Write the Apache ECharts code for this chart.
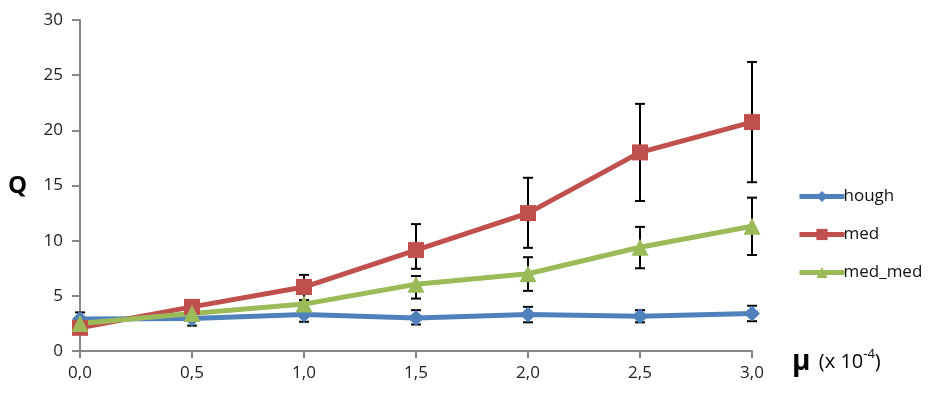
<!DOCTYPE html>
<html><head><meta charset="utf-8">
<script src="https://cdn.jsdelivr.net/npm/echarts@6/dist/echarts.min.js"></script>
<style>html,body{margin:0;padding:0;background:#fff}#c{width:940px;height:397px}</style>
</head><body><div id="c"></div>
<script>
const xValues = [0, 0.5, 1.0, 1.5, 2.0, 2.5, 3.0];
const yTicks = [0, 5, 10, 15, 20, 25, 30];
const seriesNames = ['hough', 'med', 'med_med'];
const houghVals = [2.9, 2.95, 3.3, 3.0, 3.3, 3.15, 3.4];
const houghLow  = [2.4, 2.3, 2.65, 2.4, 2.6, 2.6, 2.7];
const houghHigh = [3.5, 3.6, 3.95, 3.7, 4.0, 3.7, 4.1];
const medVals = [2.1, 4.0, 5.8, 9.15, 12.5, 18.0, 20.75];
const medLow  = [1.9, 3.5, 4.6, 7.45, 9.35, 13.6, 15.3];
const medHigh = [2.3, 4.5, 6.9, 11.5, 15.7, 22.4, 26.2];
const medmedVals = [2.5, 3.4, 4.25, 6.05, 7.0, 9.4, 11.3];
const medmedLow  = [2.4, 3.1, 3.9, 4.75, 5.45, 7.5, 8.7];
const medmedHigh = [2.6, 3.7, 4.6, 6.8, 8.5, 11.25, 13.9];

const colors = ['#4F81BD', '#C0504D', '#9BBB59'];
const symbols = ['diamond', 'rect', 'triangle'];
const symSizes = [16, 16, 17];
const vals = [houghVals, medVals, medmedVals];
const lows = [houghLow, medLow, medmedLow];
const highs = [houghHigh, medHigh, medmedHigh];
const font = 'Open Sans';

const series = [];
for (let s = 0; s < 3; s++) {
  series.push({
    name: seriesNames[s] + '_err', type: 'custom', z: 1,
    data: xValues.map((x, i) => [x, lows[s][i], highs[s][i]]),
    renderItem: function (params, api) {
      const lo = api.coord([api.value(0), api.value(1)]);
      const hi = api.coord([api.value(0), api.value(2)]);
      const w = 5;
      const st = { stroke: '#000', lineWidth: 2 };
      return { type: 'group', children: [
        { type: 'line', shape: { x1: lo[0], y1: lo[1], x2: hi[0], y2: hi[1] }, style: st },
        { type: 'line', shape: { x1: lo[0] - w, y1: lo[1], x2: lo[0] + w, y2: lo[1] }, style: st },
        { type: 'line', shape: { x1: hi[0] - w, y1: hi[1], x2: hi[0] + w, y2: hi[1] }, style: st }
      ]};
    },
    silent: true, animation: false
  });
}
for (let s = 0; s < 3; s++) {
  series.push({
    name: seriesNames[s], type: 'line', z: 3,
    data: xValues.map((x, i) => [x, vals[s][i]]),
    symbol: symbols[s], symbolSize: symSizes[s], showSymbol: true,
    lineStyle: { color: colors[s], width: 5 },
    itemStyle: { color: colors[s] },
    animation: false
  });
}

const chart = echarts.init(document.getElementById('c'));
chart.setOption({
  backgroundColor: '#fff',
  animation: false,
  grid: { left: 80, right: 188, top: 20, bottom: 46 },
  xAxis: {
    type: 'value', min: 0, max: 3, interval: 0.5,
    axisLine: { lineStyle: { color: '#868686', width: 2 } },
    axisTick: { show: true, length: 7, inside: false, lineStyle: { color: '#868686', width: 2 } },
    splitLine: { show: false },
    axisLabel: { color: '#222', fontSize: 17, fontFamily: font, margin: 14,
      formatter: v => v.toFixed(1).replace('.', ',') }
  },
  yAxis: {
    type: 'value', min: yTicks[0], max: yTicks[yTicks.length - 1], interval: 5,
    axisLine: { show: true, lineStyle: { color: '#868686', width: 2 } },
    axisTick: { show: true, length: 8, lineStyle: { color: '#868686', width: 2 } },
    splitLine: { show: false },
    axisLabel: { color: '#222', fontSize: 17, fontFamily: font, margin: 17 }
  },
  legend: {
    orient: 'vertical', left: 792, top: 183, itemGap: 21,
    itemWidth: 45, itemHeight: 14,
    data: seriesNames,
    lineStyle: { width: 5 },
    textStyle: { fontSize: 17, fontFamily: font, color: '#111', padding: [0, 0, 0, -6] }
  },
  graphic: [
    { type: 'text', left: 8, top: 174, style: { text: 'Q', fontSize: 24, fontWeight: 'bold', fontFamily: font, fill: '#000' } },
    { type: 'text', left: 792, top: 348, style: {
      text: '{m|μ} {t|(x 10}{s|-4}{t|)}',
      rich: {
        m: { fontSize: 28, fontWeight: 'bold', fontFamily: font, fill: '#000', padding: [0, 5, 0, 0] },
        t: { fontSize: 20, fontFamily: font, fill: '#000' },
        s: { fontSize: 13, fontFamily: font, fill: '#000', verticalAlign: 'top', padding: [0, 0, 12, 0] }
      }
    } }
  ],
  series: series
});
</script></body></html>
